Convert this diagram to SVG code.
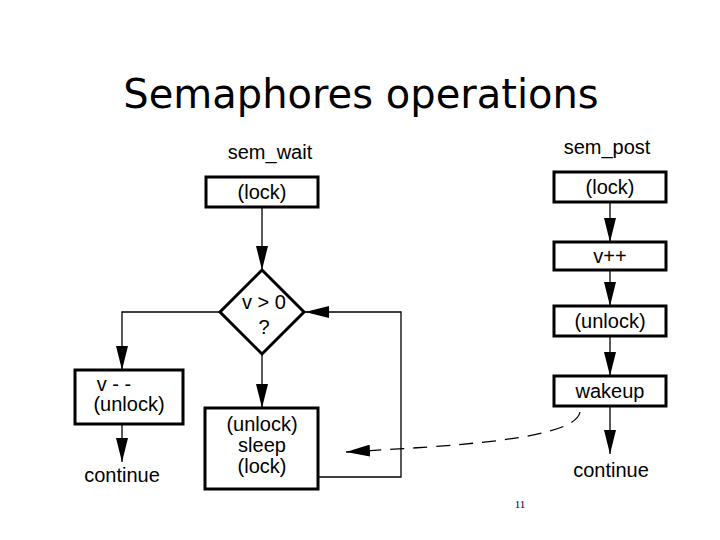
<svg xmlns="http://www.w3.org/2000/svg" width="720" height="540" viewBox="0 0 720 540">
<defs>
<style>
.b{fill:#fff;stroke:#000;stroke-width:3}
.t{font-family:"Liberation Sans",Arial,sans-serif;font-size:20px;fill:#000;text-anchor:middle}
.l{fill:none;stroke:#000;stroke-width:1.3}
</style>
<marker id="v" viewBox="0 0 24 12" markerWidth="24" markerHeight="12" refX="24" refY="6" orient="auto" markerUnits="userSpaceOnUse"><path d="M0,0 L24,6 L0,12 Z"/></marker>
</defs>
<rect width="720" height="540" fill="#fff"/>
<text x="361" y="108" font-family="'DejaVu Sans',sans-serif" font-size="40" text-anchor="middle">Semaphores operations</text>
<text x="520" y="508" font-family="'Liberation Serif',serif" font-size="11" text-anchor="middle">11</text>
<g id="connectors">
<path class="l" d="M262,207 V270" marker-end="url(#v)"/>
<path class="l" d="M220,312 H122 V370" marker-end="url(#v)"/>
<path class="l" d="M122,424 V462" marker-end="url(#v)"/>
<path class="l" d="M262,354 V408" marker-end="url(#v)"/>
<path class="l" d="M318,477 H401 V312 H305" marker-end="url(#v)"/>
<path class="l" d="M610,202 V242" marker-end="url(#v)"/>
<path class="l" d="M610,270 V306" marker-end="url(#v)"/>
<path class="l" d="M610,336 V376" marker-end="url(#v)"/>
<path class="l" d="M610,406 V454" marker-end="url(#v)"/>
<path class="l" d="M580,412 C575,440 450,446 346,452" stroke-dasharray="14,9" marker-end="url(#v)"/>
</g>
<text class="t" x="270" y="159">sem_wait</text>
<text class="t" x="607" y="154">sem_post</text>
<g id="lock1"><rect class="b" x="206" y="177" width="112" height="30"/><text class="t" x="262" y="199">(lock)</text></g>
<g id="cond"><path class="b" d="M262,270 L304,312 L262,354 L220,312 Z"/><text class="t" x="264" y="309">v &gt; 0</text><text class="t" x="264" y="334">?</text></g>
<g id="dec"><rect class="b" x="75" y="370" width="108" height="54"/><text class="t" x="114" y="391">v - -</text><text class="t" x="129" y="411">(unlock)</text></g>
<g id="sleep"><rect class="b" x="205" y="408" width="113" height="81"/><text class="t" x="262" y="431">(unlock)</text><text class="t" x="262" y="452">sleep</text><text class="t" x="262" y="473">(lock)</text></g>
<text class="t" x="122" y="482">continue</text>
<g id="lock2"><rect class="b" x="554" y="172" width="112" height="30"/><text class="t" x="610" y="194">(lock)</text></g>
<g id="inc"><rect class="b" x="554" y="242" width="112" height="28"/><text class="t" x="610" y="263">v++</text></g>
<g id="unlock2"><rect class="b" x="554" y="306" width="112" height="30"/><text class="t" x="610" y="328">(unlock)</text></g>
<g id="wake"><rect class="b" x="554" y="376" width="112" height="30"/><text class="t" x="610" y="398">wakeup</text></g>
<text class="t" x="611" y="477">continue</text>
</svg>
